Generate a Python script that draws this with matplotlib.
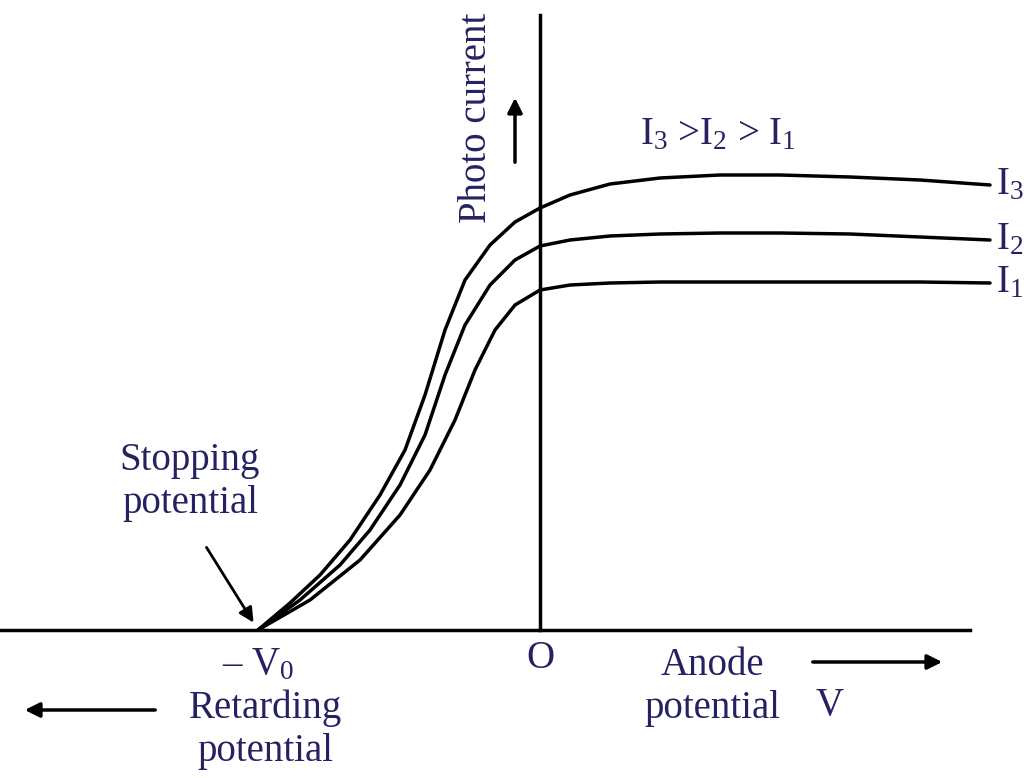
import matplotlib
matplotlib.use("Agg")
import matplotlib.pyplot as plt

# curve samples (pixel coords)
i3_x = [258, 290, 320, 350, 380, 405, 425, 445, 465, 490, 515, 540, 570, 610, 660, 720, 780, 850, 920, 990]
i3_y = [630, 603, 575, 540, 495, 450, 395, 330, 280, 245, 222, 208, 195, 184, 178, 175, 175, 177, 180, 185]
i2_x = [258, 300, 340, 370, 400, 425, 445, 465, 490, 515, 540, 570, 610, 660, 720, 780, 850, 920, 990]
i2_y = [630, 600, 565, 530, 485, 435, 375, 325, 285, 260, 246, 240, 236, 234, 233, 233, 234, 237, 240]
i1_x = [258, 310, 360, 400, 430, 455, 475, 495, 515, 540, 570, 610, 660, 720, 780, 850, 920, 990]
i1_y = [630, 600, 560, 515, 470, 420, 370, 330, 305, 290, 285, 283, 282, 282, 282, 282, 282, 283]
curve_labels = ["I$_3$", "I$_2$", "I$_1$"]

plt.rcParams['font.family'] = ['Liberation Serif', 'DejaVu Serif']
plt.rcParams['mathtext.fontset'] = 'custom'
plt.rcParams['mathtext.rm'] = 'Liberation Serif'
plt.rcParams['mathtext.it'] = 'Liberation Serif'
plt.rcParams['mathtext.default'] = 'rm'
fig = plt.figure(figsize=(10.24, 7.78), dpi=100)
ax = fig.add_axes([0, 0, 1, 1])
ax.set_xlim(0, 1024)
ax.set_ylim(778, 0)
ax.axis('off')
tc = '#262262'
fs = 28

ax.plot([0, 970], [630, 630], color='black', lw=2.5)
ax.plot([540, 540], [15, 630], color='black', lw=2.5)
for xs, ys in [(i3_x, i3_y), (i2_x, i2_y), (i1_x, i1_y)]:
    ax.plot(xs, ys, color='black', lw=2.5, solid_capstyle='round', solid_joinstyle='round')

for lab, y in zip(curve_labels, [185, 240, 283]):
    ax.text(996, y, lab, fontsize=fs, color=tc, va='center', ha='left')
ax.text(640, 135, "I$_3$ >I$_2$ > I$_1$", fontsize=fs, color=tc, va='center')
ax.text(476, 118, "Photo current", fontsize=fs, color=tc, rotation=90, va='center', ha='center')
ax.annotate('', xy=(515, 95), xytext=(515, 165),
            arrowprops=dict(arrowstyle='-|>', color='black', lw=2.5, mutation_scale=22))
ax.text(190, 482, "Stopping\npotential", fontsize=fs, color=tc, ha='center', va='center', linespacing=1.2)
ax.annotate('', xy=(255, 625), xytext=(205, 545),
            arrowprops=dict(arrowstyle='-|>', color='black', lw=2, mutation_scale=22))
ax.text(258, 665, "– V$_0$", fontsize=fs, color=tc, ha='center', va='center')
ax.text(540, 658, "O", fontsize=fs, color=tc, ha='center', va='center')
ax.text(712, 687, "Anode\npotential", fontsize=fs, color=tc, ha='center', va='center', linespacing=1.2)
ax.text(830, 705, "V", fontsize=fs, color=tc, ha='center', va='center')
ax.annotate('', xy=(945, 662), xytext=(810, 662),
            arrowprops=dict(arrowstyle='-|>', color='black', lw=2.5, mutation_scale=22))
ax.text(265, 730, "Retarding\npotential", fontsize=fs, color=tc, ha='center', va='center', linespacing=1.2)
ax.annotate('', xy=(22, 710), xytext=(158, 710),
            arrowprops=dict(arrowstyle='-|>', color='black', lw=2.5, mutation_scale=22))

fig.savefig('out.png', dpi=100)
